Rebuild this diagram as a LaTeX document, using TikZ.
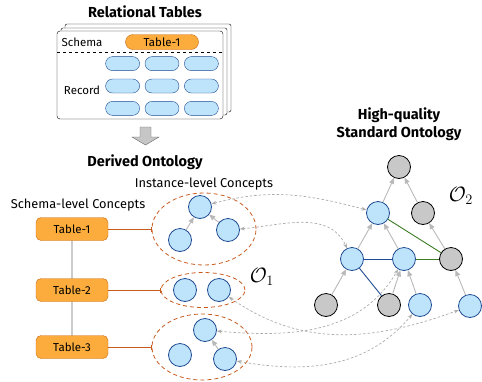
\documentclass[tikz,border=0pt]{standalone}
\usepackage{amsmath}
\usepackage{fontspec}
\setmainfont{Fira Sans}
\usepackage{tikz}
\usetikzlibrary{arrows.meta,matrix,shapes.geometric}

\definecolor{tabfill}{RGB}{251,172,60}
\definecolor{tabline}{RGB}{205,105,20}
\definecolor{grpline}{RGB}{200,90,30}
\definecolor{cptfill}{RGB}{190,228,252}
\definecolor{cptline}{RGB}{30,75,145}
\definecolor{othfill}{RGB}{200,200,200}
\definecolor{linkgreen}{RGB}{60,125,35}

\tikzset{
  title/.style = {font=\bfseries\fontsize{14.5}{17.5}\selectfont, align=center},
  lbl/.style = {font=\fontsize{12.8}{15}\selectfont},
  tablebox/.style = {draw=tabline, fill=tabfill, rounded corners=5pt,
    minimum width=72pt, minimum height=23pt, inner sep=0pt,
    font=\fontsize{11.5}{13}\selectfont},
  pill/.style = {draw=tabline, fill=tabfill, rounded corners=7.5pt,
    minimum width=73pt, minimum height=15pt, inner sep=0pt,
    font=\fontsize{11.5}{13}\selectfont},
  record/.style = {draw=cptline, fill=cptfill, rounded corners=7pt,
    minimum width=34pt, minimum height=14pt, inner sep=0pt},
  concept/.style = {circle, draw=cptline, fill=cptfill, line width=0.8pt,
    minimum size=23pt, inner sep=0pt},
  other/.style = {circle, draw=black, fill=othfill, line width=0.8pt,
    minimum size=23pt, inner sep=0pt},
  group/.style = {ellipse, draw=grpline, dash pattern=on 4pt off 3pt,
    line width=0.8pt, inner sep=0pt},
  isa/.style = {-{Triangle[width=5pt,length=6pt]}, draw=gray!55, line width=0.9pt},
  match/.style = {{Stealth[length=5pt]}-{Stealth[length=5pt]}, draw=gray!65,
    dash pattern=on 2.5pt off 2pt, line width=0.7pt},
  tie/.style = {draw=grpline, line width=0.9pt, -{Bar[width=5pt]}}
}

\begin{document}
\begin{tikzpicture}[x=1pt, y=1pt]

\useasboundingbox (0,0) rectangle (482,-381);

\node[title] (relT) at (145,-12) {Relational Tables};

\draw[fill=white, rounded corners=2pt] (65,-24) rectangle (231,-112);
\draw[fill=white, rounded corners=2pt] (61,-28) rectangle (227,-115);
\node[draw, fill=white, rounded corners=3pt, minimum width=166pt,
      minimum height=88pt, inner sep=0pt] (tab) at (140,-75) {};

\node[font=\fontsize{11.5}{13}\selectfont] (schema) at (82,-42) {Schema};
\node[pill] (head) at (162,-42) {Table-1};
\draw[dashed, line width=0.7pt] (57,-52) -- (223,-52);
\node[font=\fontsize{11.5}{13}\selectfont] (recordT) at (82,-90) {Record};

\matrix (rec)
[matrix of nodes,
 nodes = record,
 nodes in empty cells,
 column sep = 5pt,
 row sep = 8pt,
 ampersand replacement = \&]
at (162,-86)
{
 \& \& \\
 \& \& \\
 \& \& \\
};

\draw[draw=gray!80!black, fill=gray!45] (140,-127) -- (151,-127) -- (151,-137)
  -- (159,-137) -- (145.5,-145) -- (132,-137) -- (140,-137) -- cycle;

\node[title] (derT) at (145,-162) {Derived Ontology};
\node[lbl] (instT) at (204,-184) {Instance-level Concepts};
\node[lbl] (schT) at (78,-205) {Schema-level Concepts};

\draw[gray!40, line width=1.2pt] (72,-229) -- (72,-347);
\node[tablebox] (t1) at (72,-229) {Table-1};
\node[tablebox] (t2) at (72,-290) {Table-2};
\node[tablebox] (t3) at (72,-347) {Table-3};

\node[group, minimum width=104pt, minimum height=72pt] (e1) at (204,-229) {};
\node[group, minimum width=84pt, minimum height=35pt] (e2) at (203,-290) {};
\node[group, minimum width=100pt, minimum height=66pt] (e3) at (202,-347) {};

\draw[tie] (t1.east) -- (e1.west);
\draw[tie] (t2.east) -- (e2.west);
\draw[tie] (t3.east) -- (e3.west);

\node[concept] (d11) at (200,-207) {};
\node[concept] (d12) at (180,-240) {};
\node[concept] (d13) at (228,-230) {};
\node[concept] (d21) at (185,-290) {};
\node[concept] (d22) at (219,-290) {};
\node[concept] (d31) at (205,-330) {};
\node[concept] (d32) at (180,-355) {};
\node[concept] (d33) at (225,-359) {};

\draw[isa] (d12) -- (d11);
\draw[isa] (d13) -- (d11);
\draw[isa] (d33) -- (d31);

\node (O1) at (262,-277) {\fontsize{20}{24}\selectfont$\mathcal{O}_1$};

\node[title] (stdT) at (399,-124) {High-quality\\Standard Ontology};
\node (O2) at (461,-196) {\fontsize{20}{24}\selectfont$\mathcal{O}_2$};

\node[other]   (s1)  at (399,-167) {};
\node[concept] (s2)  at (378,-213) {};
\node[other]   (s3)  at (423,-213) {};
\node[concept] (s4)  at (352,-259) {};
\node[concept] (s5)  at (404,-259) {};
\node[other]   (s6)  at (451,-259) {};
\node[other]   (s7)  at (326,-305) {};
\node[other]   (s8)  at (389,-305) {};
\node[concept] (s9)  at (420,-305) {};
\node[concept] (s10) at (470,-306) {};

\draw[cptline, line width=0.9pt] (s4) -- (s5);
\draw[cptline, line width=0.9pt] (s4) -- (s8);
\draw[linkgreen, line width=0.9pt] (s2) -- (s6);
\draw[linkgreen, line width=0.9pt] (s5) -- (s6);

\draw[isa] (s2) -- (s1);
\draw[isa] (s3) -- (s1);
\draw[isa] (s4) -- (s2);
\draw[isa] (s5) -- (s2);
\draw[isa] (s6) -- (s3);
\draw[isa] (s7) -- (s4);
\draw[isa] (s8) -- (s5);
\draw[isa] (s9) -- (s5);
\draw[isa] (s10) -- (s6);

\draw[match] (d11) to[out=15, in=165] (s2);
\draw[match] (d13) to[out=5, in=115] (s4);
\draw[match] (d22) to[out=-35, in=200] (s10);
\draw[match] (d31) to[out=-5, in=240] (s5);
\draw[match] (d33) to[out=-10, in=230] (s9);

\end{tikzpicture}
\end{document}
